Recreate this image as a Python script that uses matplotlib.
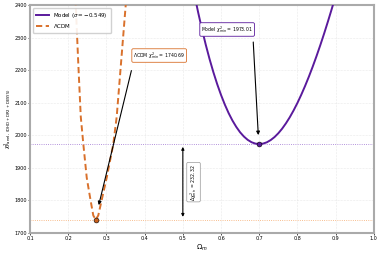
import numpy as np
import matplotlib
matplotlib.use("Agg")
import matplotlib.pyplot as plt

# values
omega_model = [0.51, 0.52, 0.53, 0.54, 0.55, 0.56, 0.57, 0.58, 0.59, 0.60, 0.61,
               0.62, 0.63, 0.64, 0.65, 0.66, 0.67, 0.68, 0.69, 0.70, 0.71, 0.72,
               0.73, 0.74, 0.75, 0.76, 0.77, 0.78, 0.79, 0.80, 0.81, 0.82, 0.83,
               0.84, 0.85, 0.86, 0.87, 0.88, 0.89, 0.90, 0.91]
chi2_model = [2560.0, 2493.7, 2433.9, 2378.1, 2326.3, 2278.3, 2234.1, 2193.7,
              2157.0, 2123.9, 2094.2, 2067.9, 2045.1, 2025.6, 2009.1, 1996.0,
              1985.8, 1978.6, 1974.4, 1973.01, 1974.4, 1978.4, 1985.2, 1994.4,
              2006.1, 2020.2, 2036.7, 2055.3, 2076.2, 2099.1, 2124.2, 2151.1,
              2179.9, 2210.5, 2242.9, 2276.9, 2312.5, 2349.7, 2388.2, 2428.1,
              2469.3]

omega_lcdm = [0.214, 0.2196, 0.226, 0.2327, 0.2394, 0.2483, 0.254, 0.2596,
              0.2655, 0.272, 0.2785, 0.2858, 0.293, 0.3007, 0.3179, 0.3268,
              0.338, 0.3504, 0.356]
chi2_lcdm = [2480, 2400, 2225, 2057, 1973, 1870, 1830, 1792, 1753.6, 1740.69,
             1753.6, 1792, 1830, 1870, 1973, 2057, 2220, 2400, 2480]

best_model = (0.70, 1973.01)
best_lcdm = (0.272, 1740.69)
delta_chi2 = 232.32

xticks = [0.1, 0.2, 0.3, 0.4, 0.5, 0.6, 0.7, 0.8, 0.9, 1.0]
yticks = [1700, 1800, 1900, 2000, 2100, 2200, 2300, 2400]

purple = "#5a1a9c"
orange = "#d9712c"

fig = plt.figure(figsize=(3.81, 2.54), dpi=100)
ax = fig.add_axes([0.079, 0.083, 0.902, 0.897])

ax.plot(omega_model, chi2_model, color=purple, lw=1.4, label=r"Model ($\sigma = -0.549$)", zorder=3)
ax.plot(omega_lcdm, chi2_lcdm, color=orange, lw=1.4, ls=(0, (3.2, 1.8)), label=r"$\Lambda$CDM", zorder=3)

# best-fit reference lines and points
ax.axhline(best_model[1], color="#9b6fd0", lw=0.6, ls=":", zorder=1)
ax.axhline(best_lcdm[1], color="#f5a86a", lw=0.6, ls=":", zorder=1)
ax.plot(*best_model, "o", color=purple, mec="black", mew=0.4, ms=3.5, zorder=4)
ax.plot(*best_lcdm, "o", color="#c9601c", mec="black", mew=0.4, ms=3.5, zorder=4)

# annotations
ax.annotate("", xy=(0.278, 1777), xytext=(0.367, 2207),
            arrowprops=dict(arrowstyle="-|>", color="black", lw=0.8, mutation_scale=5))
ax.text(0.37, 2245, r"$\Lambda$CDM $\chi^2_{min}$ = 1740.69", fontsize=3.3,
        ha="left", va="center",
        bbox=dict(boxstyle="round,pad=0.3", fc="white", ec=orange, lw=0.6))

ax.annotate("", xy=(0.698, 1992), xytext=(0.684, 2295),
            arrowprops=dict(arrowstyle="-|>", color="black", lw=0.8, mutation_scale=5))
ax.text(0.548, 2325, r"Model $\chi^2_{min}$ = 1973.01", fontsize=3.3,
        ha="left", va="center",
        bbox=dict(boxstyle="round,pad=0.3", fc="white", ec=purple, lw=0.6))

ax.annotate("", xy=(0.5, best_lcdm[1]), xytext=(0.5, best_model[1]),
            arrowprops=dict(arrowstyle="<|-|>", color="black", lw=0.8, mutation_scale=4))
ax.text(0.528, 1856, r"$\Delta\chi^2_{min}$ = %.2f" % delta_chi2, fontsize=3.3,
        rotation=90, ha="center", va="center",
        bbox=dict(boxstyle="round,pad=0.3", fc="white", ec="#999999", lw=0.5))

ax.set_xlim(0.1, 1.0)
ax.set_ylim(1700, 2400)
ax.set_xticks(xticks)
ax.set_yticks(yticks)
ax.tick_params(labelsize=3.5, length=1.5, width=0.5, pad=1)
ax.set_xlabel(r"$\Omega_m$", fontsize=5, labelpad=1)
ax.set_ylabel(r"$\chi^2_{\rm Panel,\ (DHD + DR2 + DESY5)}$", fontsize=4, labelpad=1)
ax.grid(True, ls=":", lw=0.4, color="#cccccc", alpha=0.8)
for s in ax.spines.values():
    s.set_color("#aaaaaa")
    s.set_linewidth(1.5)

ax.legend(loc="upper left", fontsize=4, handlelength=2.4, frameon=True,
          borderpad=0.5, labelspacing=0.4, framealpha=0.9)

fig.savefig("out.png", dpi=100)
